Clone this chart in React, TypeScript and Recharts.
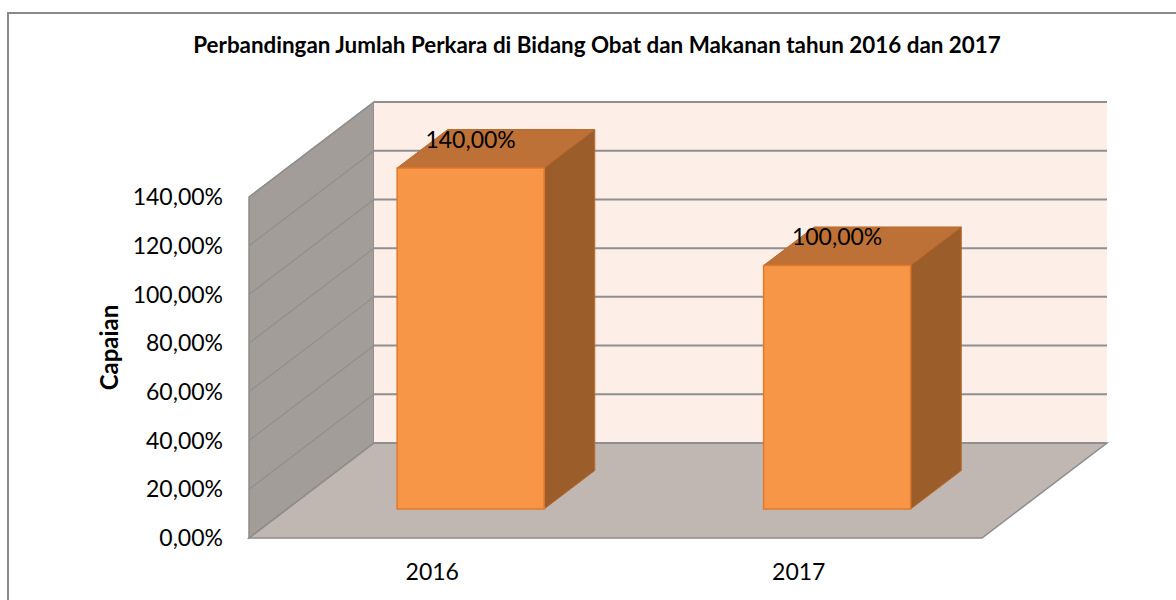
import React from "react";
import {
  BarChart,
  Bar,
  XAxis,
  YAxis,
  CartesianGrid,
  LabelList,
  Label,
} from "recharts";

document.body.style.margin = "0";

const years = ["2016", "2017"];
const capaian = [140, 100];
const yTicks = [0, 20, 40, 60, 80, 100, 120, 140];

const data = years.map((year, i) => ({ year, capaian: capaian[i] }));

const FONT = "Lato, Carlito, Calibri, sans-serif";

// offset of the back wall (3D depth)
const DX = 125;
const DY = -95;
// bars stand in the middle of the floor depth
const BAR_FRONT = 0.305;
const BAR_DEPTH = 0.405;

const fmt = (v: number) => v.toFixed(2).replace(".", ",") + "%";

// grid line on side wall + back wall; the walls are drawn with the first line
const renderGridLine = (props: any) => {
  const { x1, y1, x2, index, y, height } = props;
  const bottom = y + height;
  return (
    <g key={props.key}>
      {index === 0 && (
        <g>
          <polygon
            points={`${x1},${bottom} ${x1},${y} ${x1 + DX},${y + DY} ${x1 + DX},${bottom + DY}`}
            fill="#a39d99"
            stroke="#8c8c8c"
            strokeWidth={1.5}
          />
          <rect x={x1 + DX} y={y + DY} width={x2 - x1} height={height} fill="#fdeee7" />
          <polygon
            points={`${x1},${bottom} ${x2},${bottom} ${x2 + DX},${bottom + DY} ${x1 + DX},${bottom + DY}`}
            fill="#c0b6b2"
            stroke="#8c8c8c"
            strokeWidth={1.5}
          />
        </g>
      )}
      <line x1={x1} y1={y1} x2={x1 + DX} y2={y1 + DY} stroke="#8f8f8f" strokeWidth={1.2} />
      <line x1={x1 + DX} y1={y1 + DY} x2={x2 + DX} y2={y1 + DY} stroke="#8f8f8f" strokeWidth={2} />
    </g>
  );
};

const Box3D = (props: any) => {
  const { x, y, width, height } = props;
  if (height == null || width == null) return null;
  const fx = x + DX * BAR_FRONT;
  const fy = y + DY * BAR_FRONT;
  const bx = DX * BAR_DEPTH;
  const by = DY * BAR_DEPTH;
  return (
    <g>
      <polygon
        points={`${fx},${fy} ${fx + width},${fy} ${fx + width + bx},${fy + by} ${fx + bx},${fy + by}`}
        fill="#bd7136"
        stroke="#b86a2e"
        strokeWidth={1}
      />
      <polygon
        points={`${fx + width},${fy} ${fx + width + bx},${fy + by} ${fx + width + bx},${fy + height + by} ${fx + width},${fy + height}`}
        fill="#9b5d2a"
        stroke="#b86a2e"
        strokeWidth={1}
      />
      <rect x={fx} y={fy} width={width} height={height} fill="#f79646" stroke="#e07a2e" strokeWidth={1.5} />
    </g>
  );
};

const renderValueLabel = (props: any) => {
  const { x, y, width, value } = props;
  return (
    <text
      x={x + DX * BAR_FRONT + width / 2}
      y={y + DY * BAR_FRONT - 20}
      textAnchor="middle"
      fontFamily={FONT}
      fontSize={23}
      fill="#000"
    >
      {fmt(value)}
    </text>
  );
};

const renderYLabel = (props: any) => {
  const vb = props.viewBox || {};
  const lx = vb.x + 29;
  const ly = vb.y + vb.height / 2 - 20;
  return (
    <text
      x={lx}
      y={ly}
      transform={`rotate(-90, ${lx}, ${ly})`}
      textAnchor="middle"
      fontFamily={FONT}
      fontSize={24}
      fontWeight="bold"
      fill="#000"
    >
      Capaian
    </text>
  );
};

export default function App() {
  return (
    <div style={{ position: "relative", width: 1176, height: 600, overflow: "hidden", background: "#fff" }}>
      <div
        style={{
          position: "absolute",
          left: 7,
          top: 12,
          width: 1200,
          height: 620,
          borderLeft: "2px solid #8a8a8a",
          borderTop: "2px solid #8a8a8a",
        }}
      />
      <div
        style={{
          position: "absolute",
          left: 597,
          top: 34,
          transform: "translateX(-50%)",
          whiteSpace: "nowrap",
          fontFamily: FONT,
          fontWeight: "bold",
          fontSize: 22.4,
          lineHeight: "22.4px",
          color: "#000",
        }}
      >
        Perbandingan Jumlah Perkara di Bidang Obat dan Makanan tahun 2016 dan 2017
      </div>
      <div style={{ position: "absolute", left: 0, top: 0 }}>
        <BarChart
          width={1176}
          height={600}
          data={data}
          margin={{ top: 197, right: 194, bottom: 32, left: 89 }}
        >
          <CartesianGrid vertical={false} horizontal={renderGridLine} />
          <XAxis
            dataKey="year"
            axisLine={false}
            tickLine={false}
            height={30}
            tickMargin={20}
            tick={{ fontFamily: FONT, fontSize: 23, fill: "#000" }}
          />
          <YAxis
            type="number"
            domain={[0, 140]}
            ticks={yTicks}
            tickFormatter={fmt}
            axisLine={false}
            tickLine={false}
            width={160}
            tickMargin={20}
            tick={{ fontFamily: FONT, fontSize: 23, fill: "#000" }}
          >
            <Label content={renderYLabel} />
          </YAxis>
          <Bar dataKey="capaian" barSize={147} shape={<Box3D />} isAnimationActive={false}>
            <LabelList dataKey="capaian" content={renderValueLabel} />
          </Bar>
        </BarChart>
      </div>
    </div>
  );
}
